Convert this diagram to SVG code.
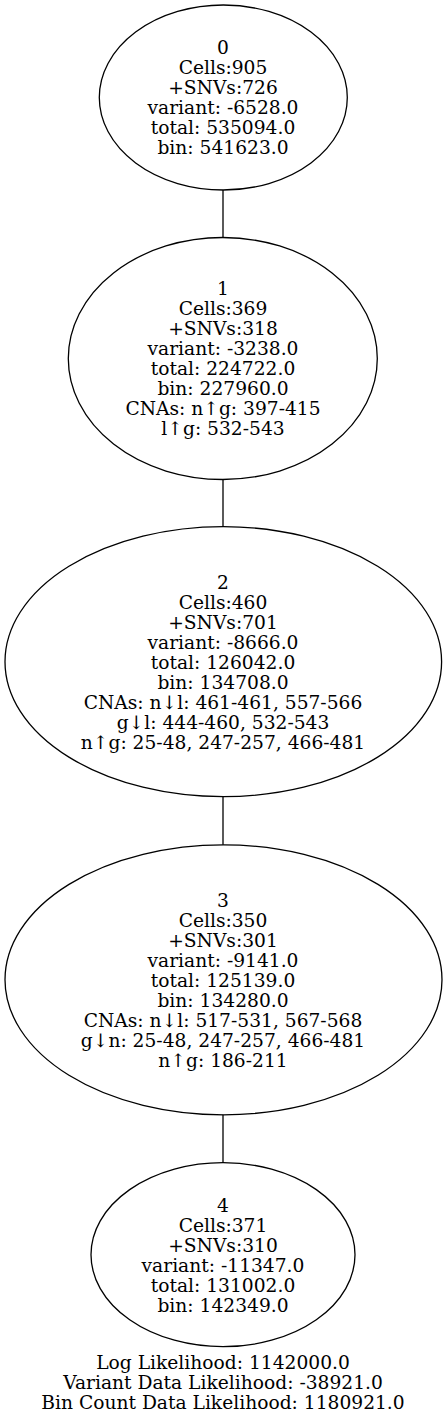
<svg xmlns="http://www.w3.org/2000/svg" width="447" height="1418" viewBox="0 0 447 1418">
<style>
.bg{fill:#ffffff}
.node ellipse{fill:none;stroke:#000;stroke-width:1.3}
.edge{stroke:#000;stroke-width:1.3;fill:none}
text{font-family:"DejaVu Serif","Liberation Serif",serif;font-size:18.67px;text-anchor:middle;fill:#000}
</style>
<rect class="bg" x="0" y="0" width="447" height="1418"/>
<g id="edges">
<path class="edge" d="M223,190 L223,237.5"/>
<path class="edge" d="M223,479.5 L223,526.7"/>
<path class="edge" d="M223,796.7 L223,844.8"/>
<path class="edge" d="M223,1114.8 L223,1162.7"/>
</g>
<g id="node0" class="node">
<ellipse cx="223.3" cy="97.5" rx="124" ry="92.5"/>
<text x="223" y="54.3">0</text>
<text x="223" y="74.3">Cells:905</text>
<text x="223" y="94.3">+SNVs:726</text>
<text x="223" y="114.3">variant: -6528.0</text>
<text x="223" y="134.3">total: 535094.0</text>
<text x="223" y="154.3">bin: 541623.0</text>
</g>
<g id="node1" class="node">
<ellipse cx="222.8" cy="358.5" rx="154.5" ry="121"/>
<text x="223" y="295.3">1</text>
<text x="223" y="315.3">Cells:369</text>
<text x="223" y="335.3">+SNVs:318</text>
<text x="223" y="355.3">variant: -3238.0</text>
<text x="223" y="375.3">total: 224722.0</text>
<text x="223" y="395.3">bin: 227960.0</text>
<text x="223" y="415.3">CNAs: n↑g: 397-415</text>
<text x="223" y="435.3">l↑g: 532-543</text>
</g>
<g id="node2" class="node">
<ellipse cx="223.3" cy="661.7" rx="218.3" ry="135"/>
<text x="223" y="588.5">2</text>
<text x="223" y="608.5">Cells:460</text>
<text x="223" y="628.5">+SNVs:701</text>
<text x="223" y="648.5">variant: -8666.0</text>
<text x="223" y="668.5">total: 126042.0</text>
<text x="223" y="688.5">bin: 134708.0</text>
<text x="223" y="708.5">CNAs: n↓l: 461-461, 557-566</text>
<text x="223" y="728.5">g↓l: 444-460, 532-543</text>
<text x="223" y="748.5">n↑g: 25-48, 247-257, 466-481</text>
</g>
<g id="node3" class="node">
<ellipse cx="223.5" cy="979.8" rx="218.5" ry="135"/>
<text x="223" y="906.6">3</text>
<text x="223" y="926.6">Cells:350</text>
<text x="223" y="946.6">+SNVs:301</text>
<text x="223" y="966.6">variant: -9141.0</text>
<text x="223" y="986.6">total: 125139.0</text>
<text x="223" y="1006.6">bin: 134280.0</text>
<text x="223" y="1026.6">CNAs: n↓l: 517-531, 567-568</text>
<text x="223" y="1046.6">g↓n: 25-48, 247-257, 466-481</text>
<text x="223" y="1066.6">n↑g: 186-211</text>
</g>
<g id="node4" class="node">
<ellipse cx="223" cy="1254.7" rx="132" ry="92"/>
<text x="223" y="1211.5">4</text>
<text x="223" y="1231.5">Cells:371</text>
<text x="223" y="1251.5">+SNVs:310</text>
<text x="223" y="1271.5">variant: -11347.0</text>
<text x="223" y="1291.5">total: 131002.0</text>
<text x="223" y="1311.5">bin: 142349.0</text>
</g>
<g id="footer">
<text x="223" y="1368.5">Log Likelihood: 1142000.0</text>
<text x="223" y="1388.5">Variant Data Likelihood: -38921.0</text>
<text x="223" y="1408.5">Bin Count Data Likelihood: 1180921.0</text>
</g>
</svg>
